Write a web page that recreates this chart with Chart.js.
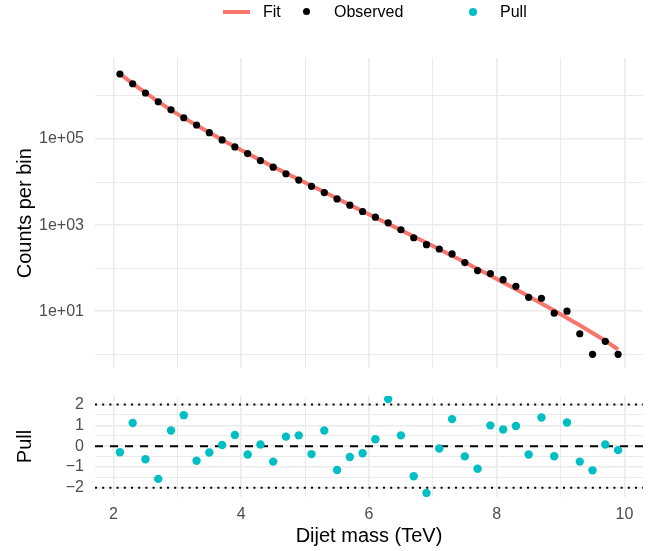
<!DOCTYPE html>
<html>
<head>
    <title>Dijet fit</title>
    <script src="https://cdn.jsdelivr.net/npm/chart.js"></script>
    <style>
        body { margin: 0; background: #fff; font-family: "Liberation Sans", Arial, sans-serif; }
        #wrap { position: relative; width: 651px; height: 551px; overflow: hidden; }
        canvas { position: absolute; left: 0; }
        .lg { position: absolute; font-size: 16px; line-height: 20px; color: #000; white-space: nowrap; }
        .dot { position: absolute; border-radius: 50%; }
    </style>
</head>
<body>
<div id="wrap">
    <canvas id="top-chart" width="651" height="389" style="top:0"></canvas>
    <canvas id="pull-chart" width="651" height="181" style="top:370px"></canvas>

    <div style="position:absolute;left:223px;top:10px;width:27px;height:4px;background:#F8766D"></div>
    <div class="lg" style="left:263px;top:2px">Fit</div>
    <div class="dot" style="left:303px;top:8px;width:7px;height:7px;background:#000"></div>
    <div class="lg" style="left:334px;top:2px">Observed</div>
    <div class="dot" style="left:469px;top:8px;width:8px;height:8px;background:#00BFC4"></div>
    <div class="lg" style="left:500px;top:2px">Pull</div>
</div>

<script>
    'use strict';

    // bin centres (TeV)
    const mass = [2.1, 2.3, 2.5, 2.7, 2.9, 3.1, 3.3, 3.5, 3.7, 3.9,
                  4.1, 4.3, 4.5, 4.7, 4.9, 5.1, 5.3, 5.5, 5.7, 5.9,
                  6.1, 6.3, 6.5, 6.7, 6.9, 7.1, 7.3, 7.5, 7.7, 7.9,
                  8.1, 8.3, 8.5, 8.7, 8.9, 9.1, 9.3, 9.5, 9.7, 9.9];

    const observed = [3220000, 1920000, 1170000, 728000, 476000, 311000, 211000, 140000, 95000, 65500,
                      45900, 31600, 22200, 15600, 11100, 7940, 5690, 4050, 2900, 2070,
                      1530, 1130, 780, 509, 351, 279, 214, 135, 88, 75,
                      54, 38, 21, 20, 9, 10, 3, 1, 2, 1];

    const fit = [3240000, 1940000, 1186000, 738000, 468000, 309000, 208000, 141300, 96400, 66400,
                 46100, 32300, 22750, 16100, 11480, 8200, 5850, 4150, 2944, 2089,
                 1496, 1072, 766, 546, 388, 275, 195, 137, 96, 67.3,
                 46.8, 32.4, 22.3, 15.2, 10.35, 7.0, 4.7, 3.13, 2.07, 1.29];

    const pull = [-0.29, 1.11, -0.63, -1.57, 0.75, 1.49, -0.70, -0.30, 0.06, 0.54,
                  -0.40, 0.08, -0.74, 0.46, 0.52, -0.38, 0.75, -1.14, -0.52, -0.34,
                  0.33, 2.26, 0.52, -1.44, -2.25, -0.11, 1.30, -0.49, -1.08, 1.00,
                  0.80, 0.97, -0.40, 1.38, -0.48, 1.14, -0.74, -1.16, 0.08, -0.19];

    // axes
    const xGrid = [2, 3, 4, 5, 6, 7, 8, 9, 10];
    const xLabels = ['2', '', '4', '', '6', '', '8', '', '10'];
    const countTicks = [1, 10, 100, 1000, 10000, 100000, 1000000];
    const countLabels = ['', '1e+01', '', '1e+03', '', '1e+05', ''];
    const pullGrid = [-2, -1.5, -1, -0.5, 0, 0.5, 1, 1.5, 2];
    const pullLabels = ['\u22122', '', '\u22121', '', '0', '', '1', '', '2'];
    const dottedLevels = [-2, 2];
    const dashedLevels = [0];

    const xMin = 1.71, xMax = 10.29;
    const gridColor = '#EBEBEB';
    const tickFont = { family: "'Liberation Sans', Arial, sans-serif", size: 16 };
    const titleFont = { family: "'Liberation Sans', Arial, sans-serif", size: 20 };

    Chart.defaults.font.family = "'Liberation Sans', Arial, sans-serif";

    function xScale(showLabels) {
        return {
            type: 'linear',
            min: xMin,
            max: xMax,
            afterBuildTicks: function (scale) {
                scale.ticks = xGrid.map(v => ({ value: v }));
            },
            afterFit: function (scale) {
                scale.height = showLabels ? 54 : 0;
            },
            border: { display: false },
            grid: {
                color: gridColor,
                drawTicks: false,
                lineWidth: ctx => (ctx.tick && ctx.tick.value % 2 === 0) ? 1.6 : 1
            },
            ticks: {
                display: showLabels,
                autoSkip: false,
                maxRotation: 0,
                padding: 8,
                color: '#4D4D4D',
                font: tickFont,
                callback: function (value) {
                    return xLabels[xGrid.indexOf(value)];
                }
            },
            title: {
                display: showLabels,
                text: 'Dijet mass (TeV)',
                color: '#000',
                font: titleFont,
                padding: { top: 0, bottom: 3 }
            }
        };
    }

    const xy = (xs, ys) => xs.map((x, i) => ({ x: x, y: ys[i] }));

    new Chart(document.getElementById('top-chart'), {
        type: 'scatter',
        data: {
            datasets: [{
                type: 'line',
                label: 'Fit',
                data: xy(mass, fit),
                borderColor: '#F8766D',
                borderWidth: 4,
                pointRadius: 0,
                tension: 0,
                fill: false,
                order: 2
            }, {
                label: 'Observed',
                data: xy(mass, observed),
                backgroundColor: '#000',
                borderWidth: 0,
                pointRadius: 3.6,
                order: 1
            }]
        },
        options: {
            responsive: false,
            devicePixelRatio: 1,
            animation: false,
            layout: { padding: { left: 0, right: 8, top: 58, bottom: 2 } },
            scales: {
                x: xScale(false),
                y: {
                    type: 'logarithmic',
                    min: 0.47,
                    max: 7.6e6,
                    afterBuildTicks: function (scale) {
                        scale.ticks = countTicks.map(v => ({ value: v }));
                    },
                    afterFit: function (scale) {
                        scale.width = 95;
                    },
                    border: { display: false },
                    grid: {
                        color: gridColor,
                        drawTicks: false,
                        lineWidth: ctx => (ctx.tick && countLabels[countTicks.indexOf(ctx.tick.value)] !== '') ? 1.6 : 1
                    },
                    ticks: {
                        autoSkip: false,
                        padding: 11,
                        color: '#4D4D4D',
                        font: tickFont,
                        callback: function (value) {
                            return countLabels[countTicks.indexOf(value)];
                        }
                    },
                    title: {
                        display: true,
                        text: 'Counts per bin',
                        color: '#000',
                        font: titleFont,
                        padding: { top: 13, bottom: 0 }
                    }
                }
            },
            plugins: { legend: { display: false }, tooltip: { enabled: false } }
        }
    });

    const levelLine = (lv, dash) => ({
        type: 'line',
        data: [{ x: xMin, y: lv }, { x: xMax, y: lv }],
        borderColor: '#000',
        borderWidth: 2,
        borderDash: dash,
        pointRadius: 0,
        fill: false,
        order: 2
    });

    new Chart(document.getElementById('pull-chart'), {
        type: 'scatter',
        data: {
            datasets: [
                ...dottedLevels.map(lv => levelLine(lv, [2, 5.2])),
                ...dashedLevels.map(lv => levelLine(lv, [8, 7])),
                {
                    label: 'Pull',
                    data: xy(mass, pull),
                    backgroundColor: '#00BFC4',
                    borderWidth: 0,
                    pointRadius: 4.2,
                    order: 1
                }
            ]
        },
        options: {
            responsive: false,
            devicePixelRatio: 1,
            animation: false,
            layout: { padding: { left: 0, right: 8, top: 26, bottom: 0 } },
            scales: {
                x: xScale(true),
                y: {
                    type: 'linear',
                    min: -2.44,
                    max: 2.41,
                    afterBuildTicks: function (scale) {
                        scale.ticks = pullGrid.map(v => ({ value: v }));
                    },
                    afterFit: function (scale) {
                        scale.width = 95;
                    },
                    border: { display: false },
                    grid: {
                        color: gridColor,
                        drawTicks: false,
                        lineWidth: ctx => (ctx.tick && Number.isInteger(ctx.tick.value)) ? 1.6 : 1
                    },
                    ticks: {
                        autoSkip: false,
                        padding: 11,
                        color: '#4D4D4D',
                        font: tickFont,
                        callback: function (value) {
                            return pullLabels[pullGrid.indexOf(value)];
                        }
                    },
                    title: {
                        display: true,
                        text: 'Pull',
                        color: '#000',
                        font: titleFont,
                        padding: { top: 13, bottom: 0 }
                    }
                }
            },
            plugins: { legend: { display: false }, tooltip: { enabled: false } }
        }
    });
</script>
</body>
</html>
